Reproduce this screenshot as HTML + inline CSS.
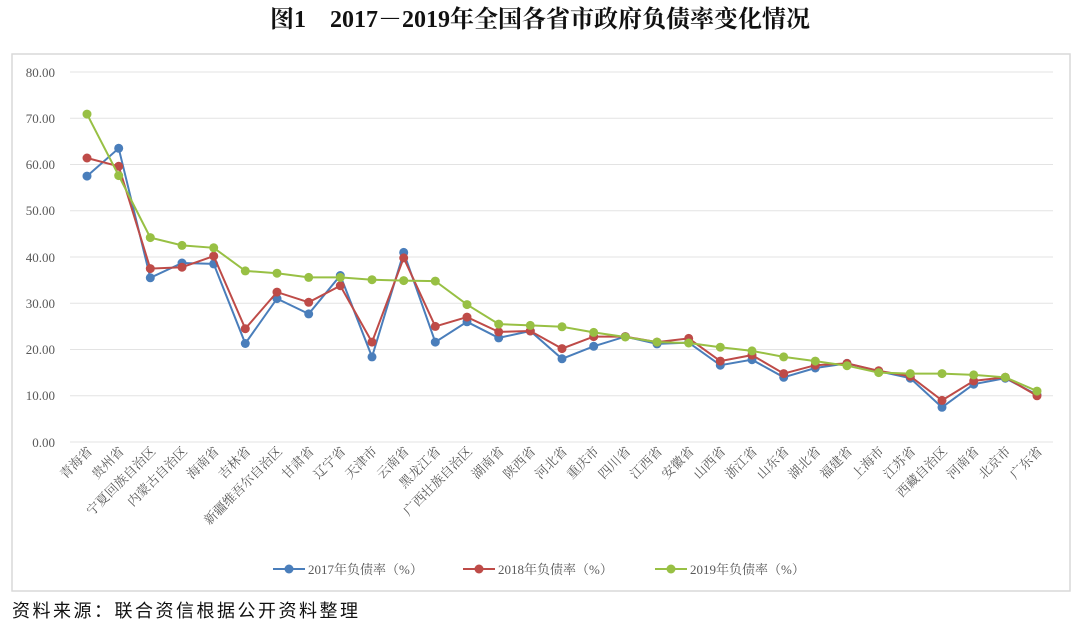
<!DOCTYPE html>
<html><head><meta charset="utf-8">
<style>
body{margin:0;background:#fff;width:1080px;height:630px;overflow:hidden;font-family:"Liberation Serif","Noto Serif CJK SC",serif;}
</style></head><body>
<svg width="1080" height="630" xmlns="http://www.w3.org/2000/svg" style="position:absolute;left:0;top:0">
<text x="540" y="27" text-anchor="middle" font-size="24" font-weight="bold" font-family="Liberation Serif, Noto Serif CJK SC, serif" fill="#111">图1　2017－2019年全国各省市政府负债率变化情况</text>
<rect x="12" y="54" width="1058" height="537" fill="#fff" stroke="#d9d9d9" stroke-width="1.5"/>
<g stroke="#e3e3e3" stroke-width="1">
<line x1="70" x2="1053" y1="72" y2="72"/><line x1="70" x2="1053" y1="118.25" y2="118.25"/>
<line x1="70" x2="1053" y1="164.5" y2="164.5"/><line x1="70" x2="1053" y1="210.75" y2="210.75"/>
<line x1="70" x2="1053" y1="257" y2="257"/><line x1="70" x2="1053" y1="303.25" y2="303.25"/>
<line x1="70" x2="1053" y1="349.5" y2="349.5"/><line x1="70" x2="1053" y1="395.75" y2="395.75"/>
<line x1="70" x2="1053" y1="442" y2="442"/>
</g>
<g font-size="13" fill="#595959" text-anchor="end" font-family="Liberation Serif, serif">
<text x="55" y="77">80.00</text><text x="55" y="123">70.00</text><text x="55" y="169">60.00</text>
<text x="55" y="215">50.00</text><text x="55" y="262">40.00</text><text x="55" y="308">30.00</text>
<text x="55" y="354">20.00</text><text x="55" y="400">10.00</text><text x="55" y="447">0.00</text>
</g>
<g font-size="13" fill="#595959" text-anchor="end" font-family="Liberation Serif, Noto Serif CJK SC, serif">
<text transform="translate(93,452) rotate(-45)">青海省</text>
<text transform="translate(124.7,452) rotate(-45)">贵州省</text>
<text transform="translate(156.3,452) rotate(-45)">宁夏回族自治区</text>
<text transform="translate(188,452) rotate(-45)">内蒙古自治区</text>
<text transform="translate(219.7,452) rotate(-45)">海南省</text>
<text transform="translate(251.3,452) rotate(-45)">吉林省</text>
<text transform="translate(283,452) rotate(-45)">新疆维吾尔自治区</text>
<text transform="translate(314.7,452) rotate(-45)">甘肃省</text>
<text transform="translate(346.3,452) rotate(-45)">辽宁省</text>
<text transform="translate(378,452) rotate(-45)">天津市</text>
<text transform="translate(409.7,452) rotate(-45)">云南省</text>
<text transform="translate(441.3,452) rotate(-45)">黑龙江省</text>
<text transform="translate(473,452) rotate(-45)">广西壮族自治区</text>
<text transform="translate(504.7,452) rotate(-45)">湖南省</text>
<text transform="translate(536.3,452) rotate(-45)">陕西省</text>
<text transform="translate(568,452) rotate(-45)">河北省</text>
<text transform="translate(599.7,452) rotate(-45)">重庆市</text>
<text transform="translate(631.3,452) rotate(-45)">四川省</text>
<text transform="translate(663,452) rotate(-45)">江西省</text>
<text transform="translate(694.7,452) rotate(-45)">安徽省</text>
<text transform="translate(726.3,452) rotate(-45)">山西省</text>
<text transform="translate(758,452) rotate(-45)">浙江省</text>
<text transform="translate(789.7,452) rotate(-45)">山东省</text>
<text transform="translate(821.3,452) rotate(-45)">湖北省</text>
<text transform="translate(853,452) rotate(-45)">福建省</text>
<text transform="translate(884.7,452) rotate(-45)">上海市</text>
<text transform="translate(916.3,452) rotate(-45)">江苏省</text>
<text transform="translate(948,452) rotate(-45)">西藏自治区</text>
<text transform="translate(979.7,452) rotate(-45)">河南省</text>
<text transform="translate(1011.3,452) rotate(-45)">北京市</text>
<text transform="translate(1043,452) rotate(-45)">广东省</text>
</g>
<g id="series"></g>
<g font-size="13" fill="#595959" font-family="Liberation Serif, Noto Serif CJK SC, serif">
<line x1="273" x2="305" y1="569" y2="569" stroke="#4a7ebb" stroke-width="2"/><circle cx="289" cy="569" r="4.5" fill="#4a7ebb"/>
<text x="308" y="574">2017年负债率（%）</text>
<line x1="463" x2="495" y1="569" y2="569" stroke="#be4b48" stroke-width="2"/><circle cx="479" cy="569" r="4.5" fill="#be4b48"/>
<text x="498" y="574">2018年负债率（%）</text>
<line x1="655" x2="687" y1="569" y2="569" stroke="#98c044" stroke-width="2"/><circle cx="671" cy="569" r="4.5" fill="#98c044"/>
<text x="690" y="574">2019年负债率（%）</text>
</g>
<text x="12" y="617" font-size="18" letter-spacing="2.5" fill="#111" font-family="Noto Sans CJK SC, sans-serif">资料来源：联合资信根据公开资料整理</text>
</svg>
<script>
var d=[
["#4a7ebb",[57.5,63.5,35.5,38.7,38.5,21.3,31,27.7,36,18.4,41,21.6,26,22.5,24,18,20.7,22.8,21.2,21.5,16.6,17.8,14,16,17,15.3,13.8,7.5,12.5,13.8,10.2]],
["#be4b48",[61.4,59.6,37.5,37.8,40.2,24.5,32.4,30.2,33.8,21.6,39.8,25,27,23.8,24,20.2,22.8,22.8,21.6,22.4,17.5,18.8,14.8,16.6,17,15.4,14.2,9,13.2,14,10]],
["#98c044",[70.9,57.6,44.2,42.5,42,37,36.5,35.6,35.6,35.1,34.9,34.8,29.7,25.5,25.2,24.9,23.7,22.7,21.6,21.4,20.5,19.7,18.4,17.5,16.5,15,14.8,14.8,14.5,14,11]]];
var g=document.getElementById('series'),s='';
d.forEach(function(e){var p=e[1].map(function(v,i){return (87+31.667*i).toFixed(1)+','+(442-v*4.625).toFixed(1)});
s+='<polyline points="'+p.join(' ')+'" fill="none" stroke="'+e[0]+'" stroke-width="2"/>';
p.forEach(function(q){var c=q.split(',');s+='<circle cx="'+c[0]+'" cy="'+c[1]+'" r="4.5" fill="'+e[0]+'"/>';});});
g.innerHTML=s;
</script>
</body></html>
